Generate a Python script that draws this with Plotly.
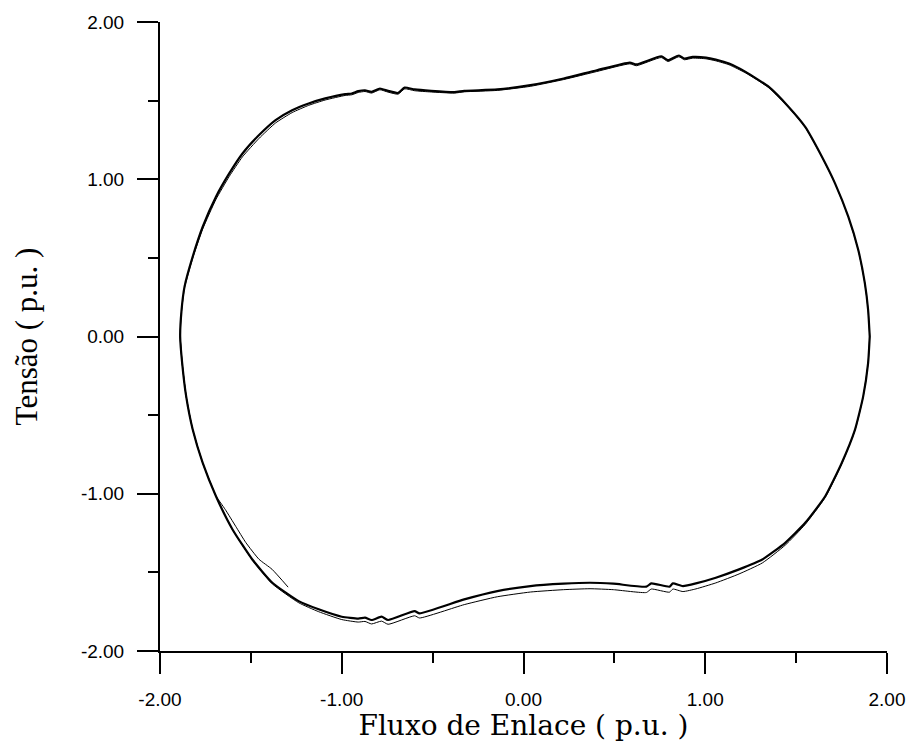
import plotly.graph_objects as go

# ---- data ----
upper_flux = [-1.889, -1.882, -1.865, -1.820, -1.765, -1.692, -1.619, -1.546, -1.455, -1.364,
              -1.273, -1.182, -1.091, -0.981, -0.945, -0.909, -0.872, -0.836, -0.790, -0.745,
              -0.690, -0.654, -0.599, -0.508, -0.380, -0.326, -0.144, 0.038, 0.221, 0.403,
              0.585, 0.621, 0.758, 0.795, 0.855, 0.885, 0.931, 1.004, 1.058, 1.131,
              1.222, 1.350, 1.459, 1.550, 1.642, 1.714, 1.787, 1.842, 1.878, 1.896, 1.905]
upper_volt = [0.000, 0.160, 0.317, 0.508, 0.698, 0.889, 1.037, 1.164, 1.281, 1.376,
              1.439, 1.482, 1.514, 1.541, 1.545, 1.560, 1.566, 1.556, 1.577, 1.562,
              1.549, 1.583, 1.571, 1.562, 1.554, 1.562, 1.571, 1.598, 1.641, 1.693,
              1.742, 1.730, 1.782, 1.757, 1.787, 1.768, 1.778, 1.774, 1.761, 1.736,
              1.683, 1.587, 1.460, 1.333, 1.143, 0.974, 0.762, 0.550, 0.339, 0.170, 0.000]
upper2_volt = [0.000, 0.155, 0.310, 0.498, 0.684, 0.872, 1.018, 1.143, 1.260, 1.358,
               1.424, 1.470, 1.504, 1.533, 1.537, 1.552, 1.558, 1.548, 1.569, 1.554,
               1.541, 1.575, 1.563, 1.555, 1.548, 1.556, 1.565, 1.591, 1.634, 1.685,
               1.734, 1.722, 1.774, 1.749, 1.779, 1.760, 1.770, 1.766, 1.753, 1.728,
               1.676, 1.582, 1.456, 1.330, 1.141, 0.973, 0.761, 0.550, 0.339, 0.170, 0.000]

lower_flux = [1.905, 1.896, 1.869, 1.824, 1.751, 1.660, 1.550, 1.440, 1.314, 1.186,
              1.058, 0.949, 0.877, 0.822, 0.803, 0.703, 0.676, 0.494, 0.366, 0.221,
              0.038, -0.144, -0.326, -0.572, -0.599, -0.745, -0.781, -0.836, -0.872, -0.909,
              -1.000, -1.127, -1.237, -1.382, -1.492, -1.601, -1.692, -1.765, -1.820, -1.856,
              -1.878, -1.889]
lower_volt = [0.000, -0.169, -0.381, -0.592, -0.804, -1.016, -1.185, -1.312, -1.418, -1.481,
              -1.534, -1.570, -1.587, -1.570, -1.591, -1.570, -1.591, -1.572, -1.566, -1.572,
              -1.587, -1.619, -1.672, -1.761, -1.746, -1.803, -1.782, -1.803, -1.788, -1.794,
              -1.782, -1.735, -1.683, -1.566, -1.418, -1.227, -1.016, -0.804, -0.592, -0.381,
              -0.169, 0.000]
lower2_volt = [0.000, -0.169, -0.383, -0.596, -0.810, -1.024, -1.195, -1.327, -1.440, -1.510,
               -1.567, -1.605, -1.622, -1.606, -1.626, -1.606, -1.628, -1.610, -1.604, -1.610,
               -1.625, -1.655, -1.705, -1.790, -1.776, -1.830, -1.810, -1.828, -1.812, -1.816,
               -1.800, -1.750, -1.693, -1.573, -1.421, -1.229, -1.017, -0.805, -0.593, -0.381,
               -0.169, 0.000]

start_flux = [-1.295, -1.384, -1.455, -1.528, -1.583, -1.641, -1.692]
start_volt = [-1.594, -1.480, -1.417, -1.310, -1.208, -1.100, -1.016]

tick_vals = [-2, -1, 0, 1, 2]
x_tick_text = ["-2.00", "-1.00", "0.00", "1.00", "2.00"]
y_tick_text = ["-2.00", "-1.00", "0.00", "1.00", "2.00"]
minor_vals = [-1.5, -0.5, 0.5, 1.5]

x_title = "Fluxo de Enlace ( p.u. )"
y_title = "Tensão ( p.u. )"

fig = go.Figure()

line_thin = dict(color="black", width=1, shape="spline", smoothing=0.5)
line_main = dict(color="black", width=2.2, shape="spline", smoothing=0.5)

# initial transient
fig.add_trace(go.Scatter(x=start_flux + lower_flux[-6:], y=start_volt + lower_volt[-6:],
                         mode="lines", line=line_thin))
# displaced cycle
fig.add_trace(go.Scatter(x=upper_flux + lower_flux, y=upper2_volt + lower2_volt,
                         mode="lines", line=line_thin))
# main cycle
fig.add_trace(go.Scatter(x=upper_flux + lower_flux, y=upper_volt + lower_volt,
                         mode="lines", line=line_main))

axis_common = dict(
    showgrid=False, zeroline=False, showline=True, linecolor="black", linewidth=2,
    ticks="outside", ticklen=21, tickwidth=2, tickcolor="black",
    tickmode="array", tickvals=tick_vals, ticklabelstandoff=9,
    tickfont=dict(family="Liberation Sans, Arial, sans-serif", size=19, color="black"),
    minor=dict(tickmode="array", tickvals=minor_vals, ticks="outside", ticklen=10,
               tickwidth=2, tickcolor="black", showgrid=False),
    range=[-2, 2], fixedrange=True,
)

fig.update_layout(
    width=917, height=742,
    margin=dict(l=160, r=25, t=21, b=89),
    paper_bgcolor="white", plot_bgcolor="white",
    showlegend=False,
    xaxis=dict(**axis_common, ticktext=x_tick_text,
               title=dict(text=x_title, standoff=1,
                          font=dict(family="DejaVu Serif, Liberation Serif, serif",
                                    size=28, color="black"))),
    yaxis=dict(**axis_common, ticktext=y_tick_text,
               title=dict(text=y_title, standoff=34,
                          font=dict(family="Liberation Serif, Times New Roman, serif",
                                    size=31, color="black"))),
)

fig.write_html("out.html")
